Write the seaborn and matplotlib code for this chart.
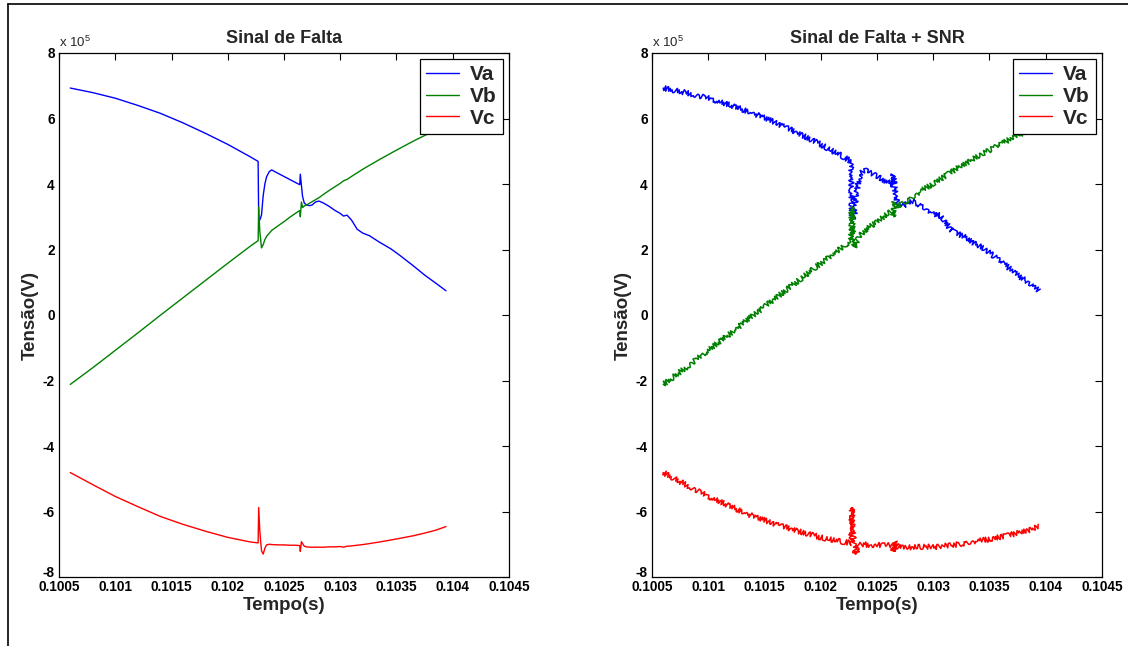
import matplotlib
matplotlib.use("Agg")
import matplotlib.pyplot as plt
import pandas as pd
import seaborn as sns
from matplotlib.lines import Line2D
from matplotlib.ticker import FixedLocator, FixedFormatter

sns.set_style("white")
plt.rcParams["font.family"] = ["Liberation Sans", "DejaVu Sans"]
plt.rcParams["font.weight"] = "bold"
plt.rcParams["mathtext.default"] = "regular"

# Phase voltages in units of 1e5 V, sampled around the fault instants
time_s = [
    0.10060, 0.10080, 0.10100, 0.10120, 0.10140, 0.10160, 0.10180, 0.10200,
    0.10220, 0.10227, 0.102275, 0.102285, 0.102300, 0.102315, 0.102330,
    0.102345, 0.102370, 0.102390, 0.102450, 0.102500, 0.102550, 0.102600,
    0.102640, 0.102645, 0.102655, 0.102665, 0.102680, 0.102700, 0.102730,
    0.102750, 0.102780, 0.102810, 0.102850, 0.102900, 0.102950, 0.103000,
    0.103030, 0.103060, 0.103100, 0.103150, 0.103200, 0.103260, 0.103350,
    0.103450, 0.103530, 0.103650, 0.103750, 0.103850, 0.103940,
]
va = [
    6.93, 6.79, 6.62, 6.40, 6.16, 5.87, 5.55, 5.21,
    4.83, 4.69, 2.95, 2.90, 3.05, 3.65, 4.00,
    4.22, 4.38, 4.43, 4.32, 4.23, 4.14, 4.05,
    3.98, 4.30, 3.95, 3.62, 3.42, 3.36, 3.34,
    3.36, 3.45, 3.48, 3.42, 3.32, 3.20, 3.10,
    3.02, 3.05, 2.90, 2.62, 2.50, 2.42, 2.22,
    2.02, 1.82, 1.50, 1.22, 0.97, 0.74,
]
vb = [
    -2.12, -1.61, -1.08, -0.55, -0.01, 0.52, 1.05, 1.58,
    2.10, 2.27, 3.30, 2.55, 2.05, 2.15, 2.30,
    2.40, 2.50, 2.58, 2.73, 2.85, 2.98, 3.10,
    3.19, 3.00, 3.45, 3.28, 3.33, 3.36, 3.42,
    3.46, 3.52, 3.58, 3.68, 3.80, 3.91, 4.02,
    4.10, 4.14, 4.23, 4.34, 4.45, 4.57, 4.75,
    4.94, 5.09, 5.31, 5.48, 5.64, 5.80,
]
vc = [
    -4.81, -5.18, -5.54, -5.85, -6.15, -6.39, -6.60, -6.79,
    -6.93, -6.96, -5.88, -6.60, -7.20, -7.30, -7.12,
    -7.02, -7.00, -7.01, -7.02, -7.02, -7.03, -7.03,
    -7.04, -7.22, -6.92, -6.98, -7.06, -7.08, -7.09,
    -7.09, -7.09, -7.09, -7.09, -7.08, -7.08, -7.07,
    -7.09, -7.06, -7.05, -7.03, -7.01, -6.98, -6.93,
    -6.87, -6.82, -6.74, -6.66, -6.57, -6.46,
]

phases = ["Va", "Vb", "Vc"]
phase_colors = {"Va": "#0000ff", "Vb": "#008000", "Vc": "#ff0000"}
titles = ["Sinal de Falta", "Sinal de Falta + SNR"]
xtick_values = [0.1005, 0.1010, 0.1015, 0.1020, 0.1025, 0.1030, 0.1035, 0.1040, 0.1045]
xtick_labels = ["0.1005", "0.101", "0.1015", "0.102", "0.1025", "0.103", "0.1035", "0.104", "0.1045"]
ytick_values = [-8, -6, -4, -2, 0, 2, 4, 6, 8]
ytick_labels = ["-8", "-6", "-4", "-2", "0", "2", "4", "6", "8"]

data = pd.DataFrame({
    "Tempo": time_s * 3,
    "Tensao": va + vb + vc,
    "Fase": [p for p, s in zip(phases, (va, vb, vc)) for _ in s],
})

W, H = 1128, 646
fig = plt.figure(figsize=(W / 100, H / 100), dpi=100)
panel_left = [59, 652]
ax_w, ax_top, ax_bot = 450, 53, 577

for i, (left_px, title) in enumerate(zip(panel_left, titles)):
    ax = fig.add_axes([left_px / W, 1 - ax_bot / H, ax_w / W, (ax_bot - ax_top) / H])
    sns.lineplot(data=data, x="Tempo", y="Tensao", hue="Fase", palette=phase_colors,
                 estimator=None, sort=False, linewidth=1.0 if i == 0 else 1.1,
                 legend=False, ax=ax)
    if i == 1:
        # noisy rendering of the signal with added SNR
        for ln in ax.lines:
            ln.set_sketch_params(scale=2.6, length=1.2, randomness=2.5)

    ax.set_xlim(0.1005, 0.1045)
    ax.set_ylim(-8, 8)
    ax.xaxis.set_major_locator(FixedLocator(xtick_values))
    ax.xaxis.set_major_formatter(FixedFormatter(xtick_labels))
    ax.yaxis.set_major_locator(FixedLocator(ytick_values))
    ax.yaxis.set_major_formatter(FixedFormatter(ytick_labels))
    ax.tick_params(direction="in", top=True, right=True, length=5, width=0.8,
                   labelsize=9.8, pad=3, colors="black")
    ax.tick_params(axis="x", pad=2.5)
    for sp in ax.spines.values():
        sp.set_visible(True)
        sp.set_color("black")
        sp.set_linewidth(0.9)
    # lowest y label sits just above the first x label
    ax.get_yticklabels()[0].set_va("baseline")

    ax.set_title(title, fontsize=13, fontweight="bold", pad=7)
    ax.set_xlabel("Tempo(s)", fontsize=13.5, fontweight="bold", labelpad=1.5)
    ax.set_ylabel("Tensão(V)", fontsize=13.5, fontweight="bold", labelpad=3)
    ax.text(0.0, 1.006, "x 10$^{5}$", transform=ax.transAxes, ha="left", va="bottom",
            fontsize=9.5, fontweight="normal")

    handles = [Line2D([], [], color=phase_colors[p], lw=1.0) for p in phases]
    leg = ax.legend(handles, phases, loc="upper right", fontsize=15, frameon=True,
                    fancybox=False, framealpha=1, edgecolor="black", borderaxespad=0.3,
                    handlelength=1.6, handletextpad=0.5, borderpad=0.3, labelspacing=0.12)
    leg.get_frame().set_linewidth(0.9)
    for t in leg.get_texts():
        t.set_fontweight("bold")

# figure frame lines along the left and top edges
fig.add_artist(Line2D([8 / W, 8 / W], [0, 1 - 4 / H], transform=fig.transFigure,
                      color="black", lw=1.2))
fig.add_artist(Line2D([8 / W, 1], [1 - 4 / H, 1 - 4 / H], transform=fig.transFigure,
                      color="black", lw=1.2))

fig.savefig("out.png", dpi=100)
